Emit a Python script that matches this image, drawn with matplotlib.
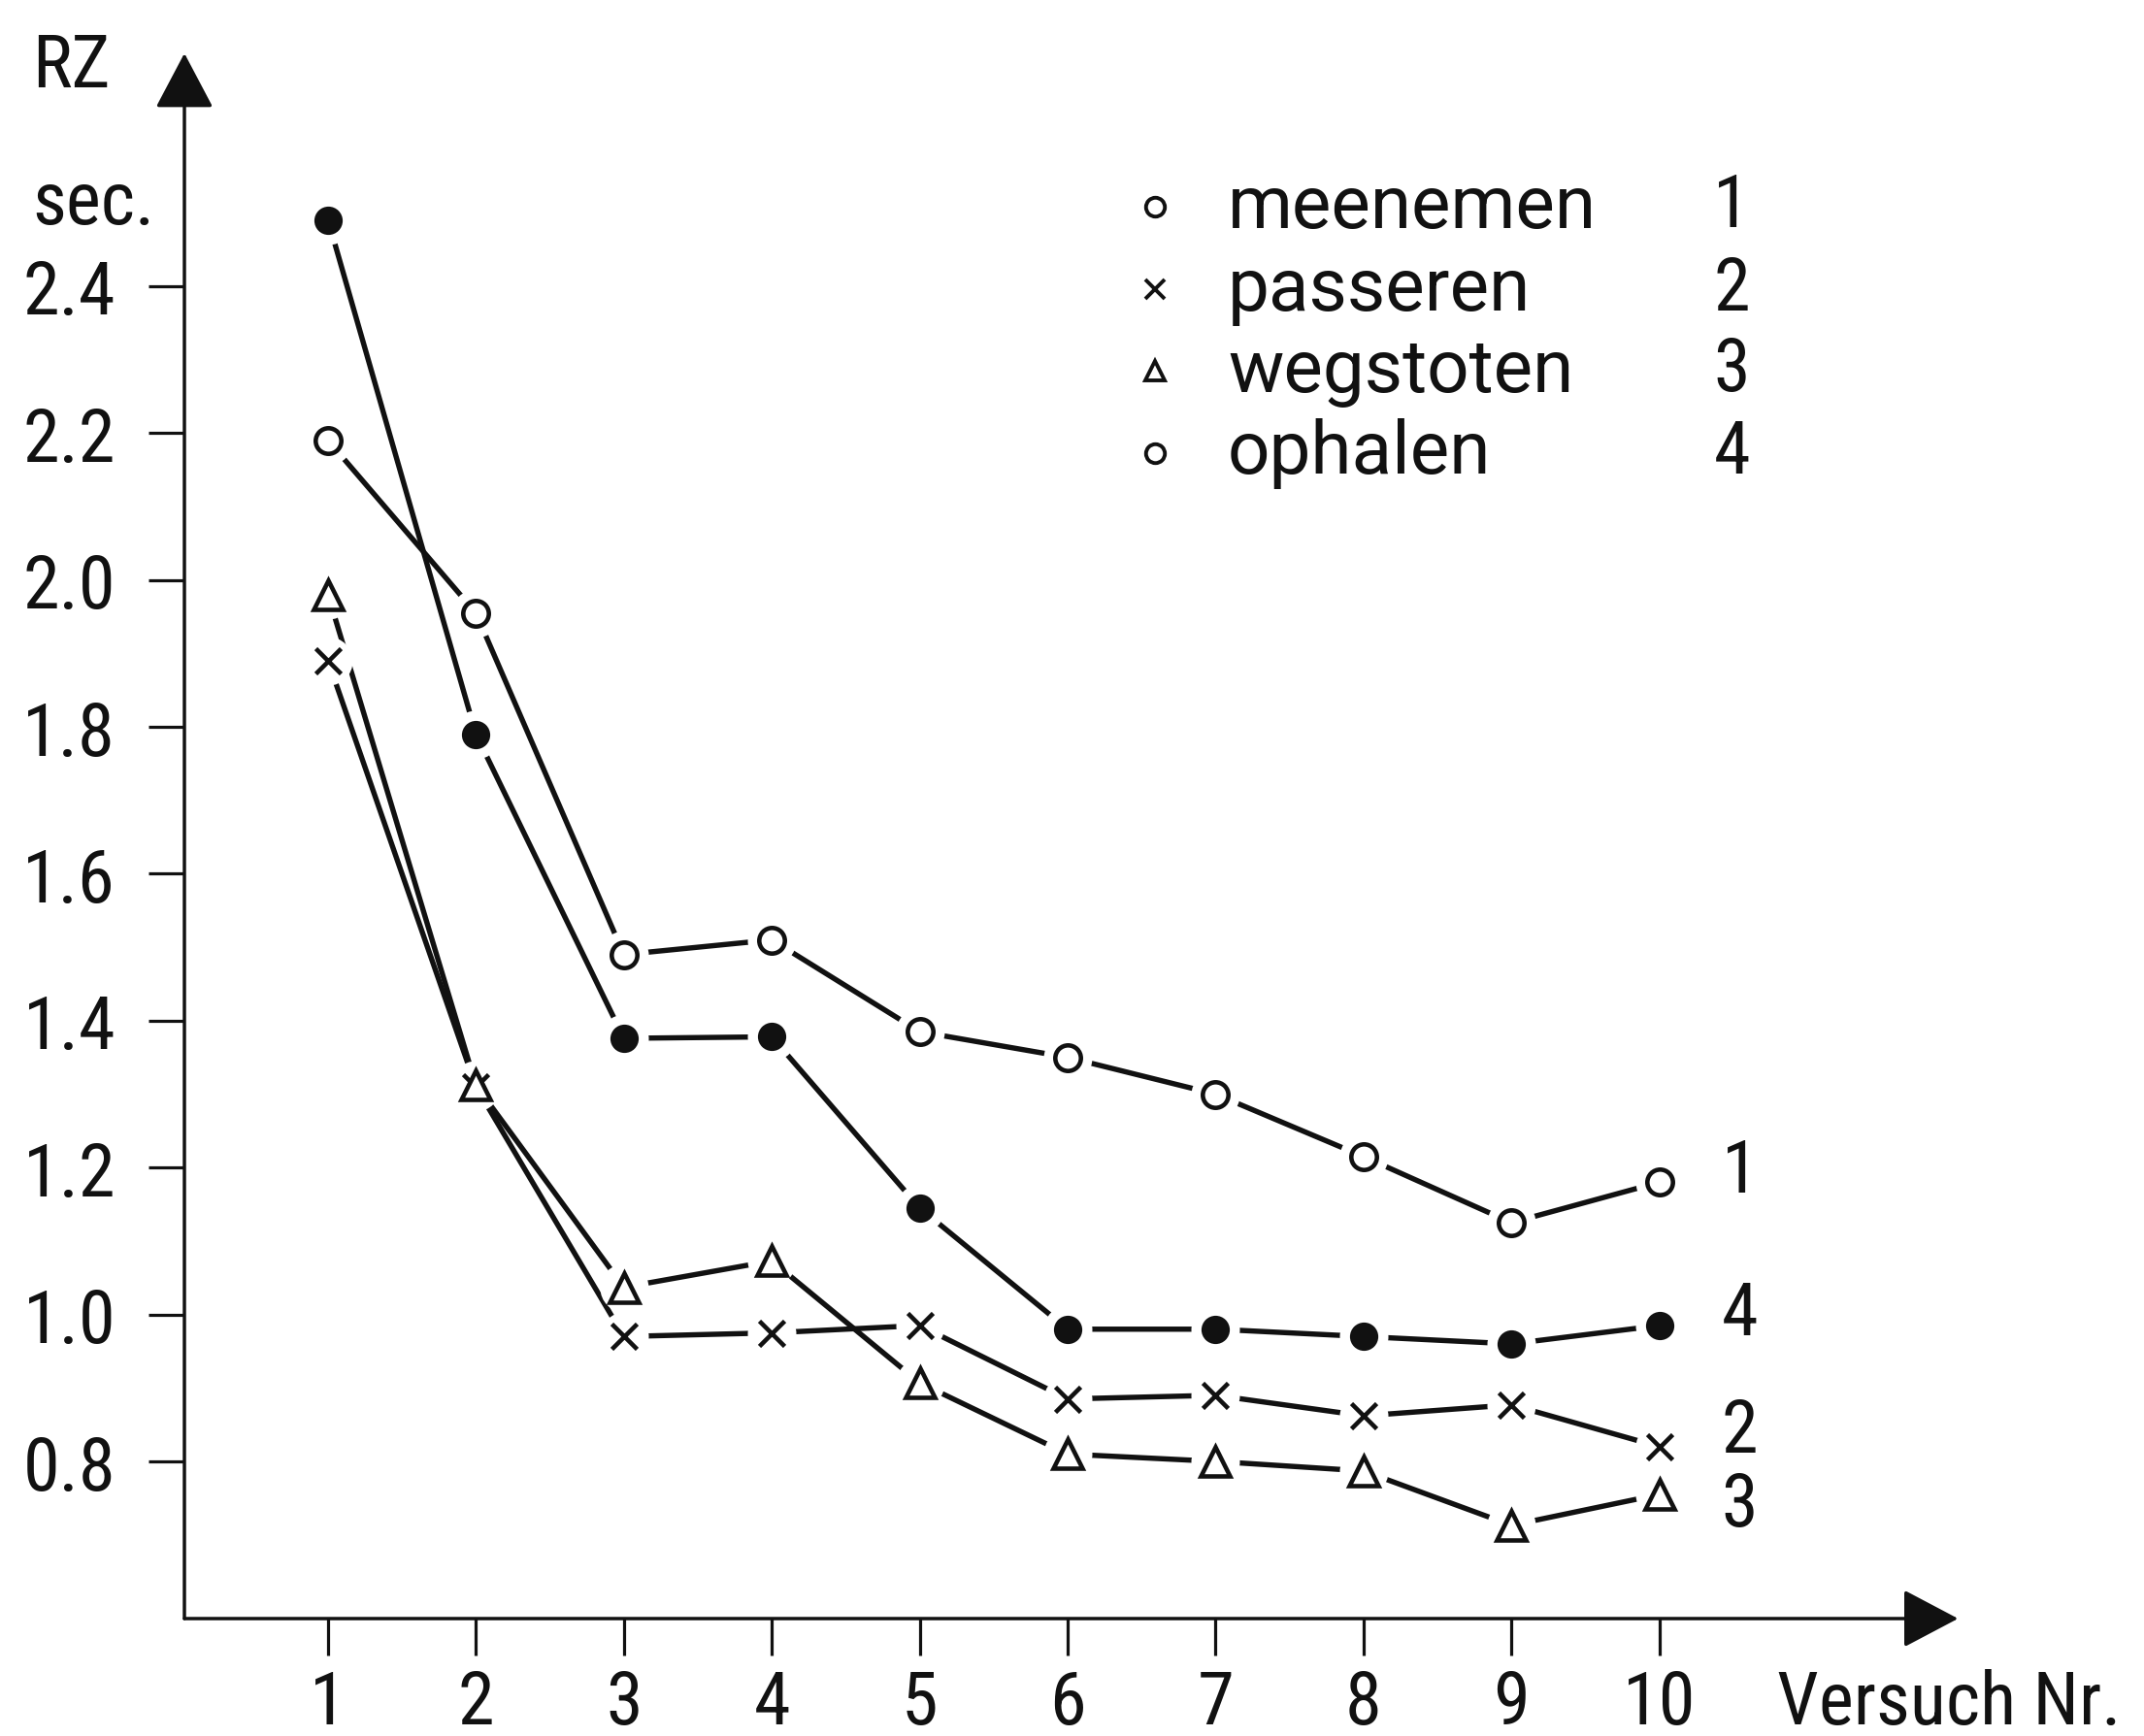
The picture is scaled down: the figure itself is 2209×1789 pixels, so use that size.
import matplotlib
matplotlib.use("Agg")
import matplotlib.pyplot as plt
from matplotlib import font_manager

# ---------------- data ----------------
versuch = [1, 2, 3, 4, 5, 6, 7, 8, 9, 10]
meenemen = [2.19, 1.955, 1.49, 1.51, 1.385, 1.35, 1.30, 1.215, 1.125, 1.18]     # 1
passeren = [1.89, 1.31, 0.97, 0.975, 0.985, 0.885, 0.89, 0.862, 0.877, 0.82]    # 2
wegstoten = [1.98, 1.312, 1.037, 1.073, 0.907, 0.81, 0.80, 0.787, 0.713, 0.755] # 3
ophalen = [2.49, 1.79, 1.376, 1.378, 1.145, 0.98, 0.98, 0.97, 0.96, 0.985]      # 4

legend_names = ["meenemen", "passeren", "wegstoten", "ophalen"]
legend_numbers = ["1", "2", "3", "4"]
y_ticks = [0.8, 1.0, 1.2, 1.4, 1.6, 1.8, 2.0, 2.2, 2.4]
y_ticklabels = ["0.8", "1.0", "1.2", "1.4", "1.6", "1.8", "2.0", "2.2", "2.4"]
x_ticklabels = [str(v) for v in versuch]

# ---------------- font ----------------
available = {f.name for f in font_manager.fontManager.ttflist}
family = "DejaVu Sans"
for cand in ["Roboto Condensed", "Liberation Sans Narrow", "Open Sans Condensed"]:
    if cand in available:
        family = cand
        break
word_family = "Roboto" if "Roboto" in available else family
plt.rcParams["font.family"] = [family, "DejaVu Sans"]

FS = 55
INK = "#111111"

fig = plt.figure(figsize=(22.09, 17.90), dpi=100)
x0, x1 = 0.029, 12.1
y0, y1 = 0.586, 2.74
ax = fig.add_axes([190 / 2209, 121 / 1790, 0.8328, 0.9109])
ax.set_xlim(x0, x1)
ax.set_ylim(y0, y1)
for s in ax.spines.values():
    s.set_visible(False)

# axis lines with arrow heads
arrow_kw = dict(arrowstyle="-|>,head_length=0.36,head_width=0.19", color=INK,
                lw=2.5, shrinkA=0, shrinkB=0, mutation_scale=100)
ax.annotate("", xy=(x0, 2.717), xytext=(x0, y0), arrowprops=arrow_kw,
            annotation_clip=False)
ax.annotate("", xy=(12.02, y0), xytext=(x0, y0), arrowprops=arrow_kw,
            annotation_clip=False)

ax.set_xticks(versuch)
ax.set_xticklabels(x_ticklabels)
ax.set_yticks(y_ticks)
ax.set_yticklabels(y_ticklabels)
ax.tick_params(axis="both", direction="out", length=27, width=2.3, color=INK,
               labelsize=FS, labelcolor=INK)
ax.tick_params(axis="x", pad=10)
ax.tick_params(axis="y", pad=24)

LW = 3.9
series = [
    (meenemen, dict(marker="o", ms=19, mfc="white", mec=INK, mew=3.3)),
    (passeren, dict(marker="x", ms=19, mec=INK, mew=3.3)),
    (ophalen, dict(marker="o", ms=19, mfc=INK, mec=INK, mew=2)),
    (wegstoten, dict(marker="^", ms=22, mfc="white", mec=INK, mew=3.3)),
]

# lines
for vals, _ in series:
    ax.plot(versuch, vals, color=INK, lw=LW, zorder=2, solid_capstyle="butt")
# white halos (gaps around markers)
for vals, st in series:
    ax.plot(versuch, vals, ls="none", marker="o", ms=36, mfc="white", mec="none",
            zorder=3)
# markers
for vals, st in series:
    ax.plot(versuch, vals, ls="none", zorder=4, **st)

# end labels
end_labels = [("1", 1.194), ("4", 1.0), ("2", 0.84), ("3", 0.74)]
for txt, yy in end_labels:
    ax.text(10.42, yy, txt, fontsize=FS, color=INK, ha="left", va="center")

# legend (hand-drawn style table)
leg_markers = [dict(marker="o", ms=14, mfc="white", mec=INK, mew=2.8),
               dict(marker="x", ms=14, mec=INK, mew=2.8),
               dict(marker="^", ms=15, mfc="white", mec=INK, mew=2.8),
               dict(marker="o", ms=14, mfc="white", mec=INK, mew=2.8)]
leg_y = [214, 299, 383, 468]
for name, num, mk, py in zip(legend_names, legend_numbers, leg_markers, leg_y):
    fy = 1 - py / 1790
    fig.lines.append(plt.Line2D([1190 / 2209], [fy], ls="none",
                                transform=fig.transFigure, **mk))
    fig.text(1265 / 2209, fy, name, fontsize=FS, color=INK, ha="left",
             va="center", family=[word_family, "DejaVu Sans"])
    fig.text(1803 / 2209, fy, num, fontsize=FS, color=INK, ha="right",
             va="center")

# axis labels
fig.text(33 / 2209, 1 - 70 / 1790, "RZ", fontsize=FS, color=INK, ha="left",
         va="center")
fig.text(33 / 2209, 1 - 211 / 1790, "sec.", fontsize=FS, color=INK, ha="left",
         va="center")
fig.text(1831 / 2209, 1 - 1757 / 1790, "Versuch Nr.", fontsize=FS, color=INK,
         ha="left", va="center")

fig.savefig("out.png", dpi=100, facecolor="white")
